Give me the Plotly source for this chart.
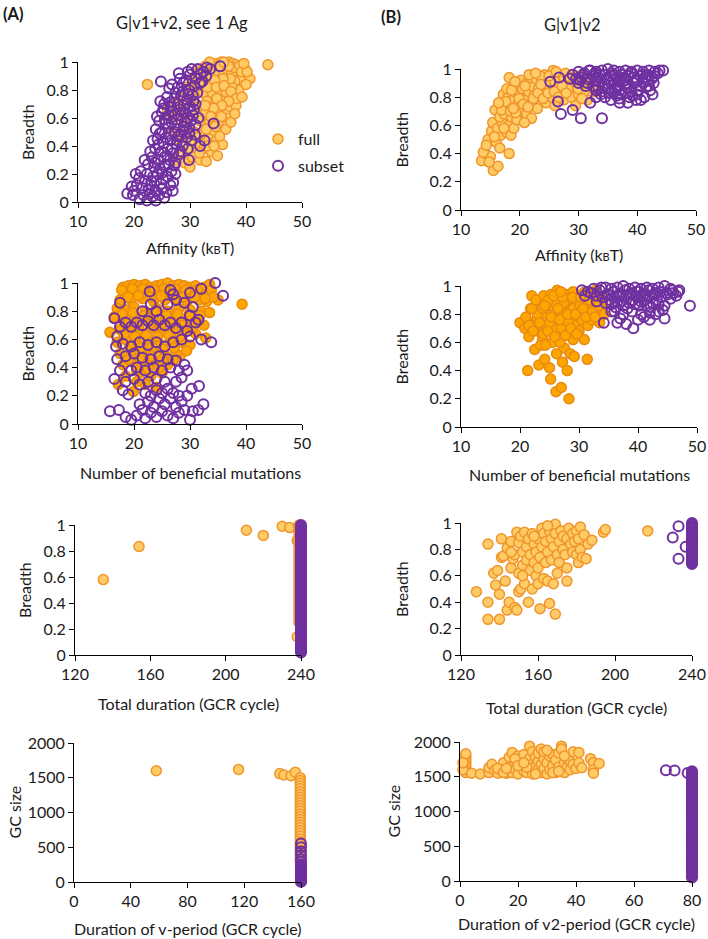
import plotly.graph_objects as go

W, H = 708, 939

# ---------------- data ----------------
A1_FULL = [(33.2,0.97),(34.0,0.98),(34.8,0.99),(35.6,1.0),(36.3,0.99),(37.0,1.0),(37.6,0.99),(38.2,0.98),(34.5,0.95),(35.8,0.96),
           (36.8,0.95),(38.6,0.94),(39.4,0.91),(40.7,0.88),(39.0,0.87),(36.2,0.92),(33.0,0.93),(32.4,0.90),(33.8,0.90),(35.3,0.91),
           (37.4,0.91),(38.0,0.86),(36.7,0.85),(35.0,0.86),(33.6,0.84),(32.0,0.86),(31.2,0.94),(32.7,0.97),(37.9,0.96),(39.8,0.95),
           (31.0,0.80),(32.4,0.78),(34.0,0.78),(35.4,0.80),(36.5,0.78),(37.7,0.76),(38.7,0.80),(33.0,0.72),(34.5,0.70),(36.0,0.72),
           (37.0,0.68),(38.2,0.69),(31.5,0.68),(32.8,0.64),(34.0,0.63),(35.2,0.65),(36.6,0.60),(30.5,0.62),(31.8,0.58),(33.5,0.57),
           (35.0,0.56),(36.4,0.52),(29.5,0.55),(34.8,0.74),(37.5,0.82),(30.0,0.72),(28.8,0.65),(33.9,0.49),(30.8,0.50),(32.0,0.48),
           (33.4,0.45),(34.7,0.44),(35.8,0.41),(31.0,0.42),(32.5,0.38),(33.8,0.36),(29.8,0.38),(30.5,0.32),(31.8,0.30),(29.0,0.28),
           (30.0,0.25),(28.5,0.35),(27.5,0.30),(28.0,0.45),(27.0,0.50),(26.4,0.60),(26.0,0.66),(27.2,0.70),(28.4,0.75),(29.5,0.82),
           (30.4,0.88),(31.4,0.92),(29.5,0.45),(22.4,0.84),(43.9,0.98),(34.9,0.33),(32.9,0.29),
           (34.3,0.93),(35.1,0.97),(36.9,0.97),(38.9,0.97),(39.2,0.93),(37.2,0.88),(35.9,0.88),(34.4,0.87),(33.1,0.82),(34.7,0.82),
           (36.1,0.83),(37.3,0.79),(38.3,0.74),(36.9,0.72),(35.7,0.69),(34.2,0.67),(32.7,0.69),(33.7,0.61),(35.6,0.61),(34.5,0.54),
           (32.9,0.52),(31.3,0.46),(30.1,0.44),(31.7,0.35),(33.1,0.40),(34.3,0.40),(35.3,0.47),(37.3,0.57),(38.0,0.63),(39.3,0.75),
           (40.0,0.84),(40.2,0.93),(39.6,0.99),(36.0,1.0),(33.5,1.0),(30.1,0.78),(31.6,0.84),(29.3,0.70),(28.6,0.58),(27.9,0.62)]
A1_SUB = [(18.8,0.06),(19.8,0.05),(21.0,0.02),(22.3,0.01),(23.3,0.04),(20.5,0.12),(21.5,0.10),(22.0,0.15),(23.0,0.12),(23.8,0.08),
          (24.5,0.05),(25.0,0.10),(25.8,0.07),(26.5,0.12),(21.2,0.22),(22.3,0.20),(23.4,0.18),(24.2,0.20),(25.2,0.16),(26.0,0.18),
          (27.0,0.14),(22.5,0.27),(23.6,0.25),(24.6,0.24),(25.6,0.26),(26.7,0.22),(27.4,0.20),(23.2,0.32),(24.3,0.30),(25.4,0.32),
          (26.4,0.30),(27.4,0.28),(23.8,0.38),(24.9,0.36),(26.0,0.38),(27.0,0.35),(28.0,0.34),(24.2,0.45),(25.3,0.42),(26.5,0.44),
          (27.6,0.41),(28.7,0.40),(29.6,0.38),(29.8,0.30),(23.9,0.52),(25.0,0.50),(26.2,0.49),(27.3,0.50),(28.4,0.48),(29.4,0.46),
          (30.3,0.44),(30.9,0.48),(24.5,0.58),(25.6,0.56),(26.7,0.57),(27.8,0.55),(28.9,0.54),(29.9,0.53),(31.0,0.55),(25.0,0.64),
          (26.2,0.62),(27.3,0.63),(28.4,0.62),(29.5,0.60),(30.5,0.62),(31.5,0.60),(25.4,0.70),(26.6,0.68),(27.8,0.70),(28.9,0.69),
          (30.0,0.68),(31.0,0.70),(25.9,0.75),(27.2,0.74),(28.4,0.76),(29.5,0.73),(30.5,0.76),(26.8,0.84),(27.8,0.82),(28.8,0.85),
          (29.8,0.80),(30.8,0.83),(31.8,0.85),(28.2,0.88),(29.3,0.87),(31.0,0.88),(32.2,0.86),(30.3,0.95),(31.4,0.95),(32.4,0.93),
          (33.0,0.96),(35.4,0.97),(34.2,0.56),(31.8,0.40),(32.6,0.44),(24.8,0.86),(24.7,0.72),(20.0,0.08),(22.8,0.06),(30.0,0.91),
          (26.2,0.27),
          (24.1,0.61),(25.3,0.67),(26.9,0.65),(27.6,0.59),(28.2,0.66),(29.2,0.64),(30.2,0.58),(26.1,0.53),(27.9,0.47),(28.9,0.51),
          (29.9,0.49),(25.7,0.46),(24.4,0.41),(26.8,0.38),(28.3,0.36),(27.2,0.26),(25.1,0.21),(23.1,0.15),(24.8,0.13),(22.6,0.09),
          (21.7,0.05),(20.9,0.17),(23.7,0.28),(25.9,0.33),(27.7,0.44),(29.1,0.57),(30.7,0.66),(31.3,0.78),(29.7,0.77),(28.7,0.79),
          (27.4,0.78),(26.3,0.81),(28.0,0.92),(29.6,0.93),(31.9,0.91),(32.9,0.90),(33.6,0.95),(30.6,0.72),(26.4,0.71),(25.5,0.59),
          (24.6,0.49),(23.4,0.44),(22.9,0.36),(21.9,0.30),(20.3,0.20),(19.6,0.11),(24.0,0.15),(26.9,0.08),(25.4,0.03),(23.9,0.01)]

B1_FULL = [(13.5,0.35),(14.2,0.40),(15.0,0.38),(15.5,0.28),(16.3,0.31),(13.8,0.41),(14.8,0.34),(18.2,0.40),(14.6,0.50),(15.2,0.56),
           (16.0,0.48),(16.8,0.53),(15.4,0.62),(16.2,0.58),(17.0,0.62),(17.8,0.55),(18.5,0.53),(15.8,0.71),(16.6,0.66),(17.4,0.68),
           (18.2,0.60),(19.0,0.58),(17.0,0.76),(17.8,0.72),(18.6,0.66),(19.5,0.64),(18.2,0.94),(17.2,0.82),(18.0,0.80),(18.8,0.78),
           (19.6,0.74),(20.4,0.70),(21.2,0.68),(17.8,0.86),(19.0,0.84),(20.0,0.82),(21.0,0.78),(22.0,0.76),(19.5,0.88),(20.5,0.86),
           (21.5,0.84),(22.5,0.82),(23.5,0.80),(20.2,0.92),(21.2,0.90),(22.2,0.88),(23.2,0.86),(24.2,0.84),(25.2,0.82),(21.8,0.94),
           (22.8,0.93),(23.8,0.91),(24.8,0.89),(25.8,0.87),(26.8,0.85),(24.2,0.96),(25.7,0.99),(26.5,0.95),(27.5,0.93),(28.5,0.90),
           (29.5,0.88),(27.8,0.97),(29.0,0.96),(30.2,0.95),(23.0,0.72),(24.5,0.76),(26.0,0.74),(27.5,0.78),(28.8,0.80),(30.0,0.82),
           (31.5,0.78),(31.0,0.84),(29.5,0.74),(25.5,0.80),(22.0,0.65),(20.8,0.62),(19.8,0.76),(28.2,0.86),(30.8,0.90),(32.5,0.88),
           (26.0,0.91),(23.5,0.95),
           (16.9,0.71),(17.6,0.77),(18.4,0.70),(19.3,0.69),(19.9,0.79),(20.6,0.75),(21.4,0.73),(22.3,0.79),(23.1,0.83),(24.0,0.79),
           (24.8,0.83),(25.9,0.84),(26.6,0.80),(27.2,0.88),(27.9,0.83),(28.6,0.94),(29.3,0.92),(21.6,0.96),(22.7,0.97),(19.2,0.91),
           (20.9,0.88),(18.6,0.85),(16.4,0.76),(15.7,0.52),(14.3,0.46),(16.6,0.44),(17.3,0.58),(18.9,0.72),(23.6,0.89),(25.0,0.95),
           (26.2,0.98),(30.6,0.79),(31.8,0.91),(32.9,0.84),(29.9,0.86)]
B1_SUB = [(25.2,0.91),(26.7,0.94),(26.5,0.77),(27.0,0.68),(29.0,0.71),(30.4,0.65),(34.0,0.65),(37.0,0.76),(38.4,0.76),(44.4,0.99),
          (29.0,0.96),(30.0,0.98),(31.0,0.97),(32.0,0.99),(33.0,0.98),(34.0,0.99),(35.0,1.0),(36.0,0.99),(37.0,0.98),(38.0,0.99),
          (39.0,0.98),(40.0,0.99),(41.0,0.98),(42.0,0.99),(43.0,0.98),(30.5,0.94),(31.5,0.93),(32.5,0.95),(33.5,0.94),(34.5,0.96),
          (35.5,0.95),(36.5,0.94),(37.5,0.96),(38.5,0.95),(39.5,0.94),(40.5,0.95),(41.5,0.94),(42.5,0.93),(31.5,0.90),(32.5,0.88),
          (33.5,0.91),(34.5,0.89),(35.5,0.90),(36.5,0.88),(37.5,0.91),(38.5,0.89),(39.5,0.90),(40.5,0.88),(41.5,0.87),(42.2,0.85),
          (33.0,0.85),(34.0,0.84),(35.0,0.86),(36.0,0.83),(37.0,0.85),(38.0,0.83),(39.0,0.84),(40.0,0.82),(41.2,0.80),(34.5,0.80),
          (35.5,0.78),(36.5,0.81),(39.8,0.78),(33.0,0.80),(32.0,0.76),(30.0,0.90),(28.5,0.93),(36.0,0.96),(38.0,0.92),(40.0,0.92),
          (42.8,0.90),(41.8,0.96),(43.5,0.97),(32.8,0.97),
          (29.6,0.93),(30.8,0.96),(31.8,0.99),(32.9,0.92),(33.7,0.96),(34.8,0.93),(35.7,0.97),(36.8,0.91),(37.8,0.94),(38.9,0.97),
          (39.7,0.92),(40.9,0.96),(41.9,0.92),(42.9,0.95),(43.8,0.99),(34.2,0.87),(35.2,0.83),(36.2,0.86),(37.2,0.82),(38.2,0.87),
          (39.2,0.81),(40.2,0.85),(41.0,0.90),(42.0,0.88),(42.6,0.82),(33.8,0.82),(36.9,0.79),(38.7,0.80),(40.6,0.78),(37.9,0.89),
          (35.9,0.92),(33.3,0.88),(31.2,0.88),(30.3,0.92)]

A2_FULL = [(18,0.97),(19,0.98),(20,0.99),(21,0.98),(22,0.99),(23,0.97),(24,0.98),(25,0.99),(26,1.0),(27,0.98),(28,0.99),(29,0.98),
           (30,0.97),(31,0.98),(32.5,0.97),(33.5,0.99),(18.5,0.93),(20.5,0.94),(22.5,0.93),(24.5,0.94),(26.5,0.95),(28.5,0.93),
           (30.5,0.94),(32,0.92),(33.8,0.95),(35,0.88),(39.3,0.85),(17.5,0.88),(19.5,0.88),(21.5,0.89),(23.5,0.87),(25.5,0.88),
           (27.5,0.89),(29.5,0.87),(31.5,0.88),(33,0.87),(34.2,0.90),(17,0.82),(18.5,0.81),(20,0.83),(22,0.80),(24,0.82),(26,0.80),
           (28,0.82),(30,0.81),(32,0.80),(33.5,0.79),(16.5,0.76),(18,0.74),(19.5,0.75),(21.5,0.74),(23.5,0.76),(25.5,0.74),
           (27.5,0.75),(29.5,0.73),(31.5,0.74),(32.5,0.70),(15.7,0.65),(17.5,0.67),(19,0.68),(21,0.66),(23,0.68),(25,0.66),(27,0.67),
           (29,0.65),(31,0.64),(32.8,0.61),(17,0.58),(18.5,0.60),(20.5,0.58),(22.5,0.60),(24.5,0.57),(26.5,0.59),(28.5,0.58),
           (30,0.56),(28.2,0.48),(17.5,0.50),(19.5,0.52),(21.5,0.50),(23.5,0.52),(25.5,0.49),(27.5,0.50),(18,0.42),(20,0.44),
           (22,0.42),(24,0.44),(26,0.42),(17.2,0.28),(19.9,0.23),(18.5,0.34),(21,0.36),(23,0.34),(25,0.36),(22,0.28),(24,0.26),
           (20.5,0.30),
           (17.8,0.95),(19.7,0.96),(21.6,0.96),(23.6,0.95),(25.4,0.96),(27.3,0.96),(29.3,0.95),(31.3,0.95),(18.9,0.90),(20.8,0.91),
           (22.9,0.90),(24.8,0.91),(26.8,0.91),(28.8,0.90),(30.8,0.90),(32.7,0.89),(17.9,0.78),(19.8,0.79),(21.8,0.77),(23.8,0.79),
           (25.8,0.77),(27.8,0.78),(29.8,0.77),(31.8,0.77),(18.8,0.71),(20.9,0.70),(22.8,0.71),(24.8,0.70),(26.8,0.71),(28.8,0.70),
           (30.6,0.69),(18.2,0.63),(20.2,0.62),(22.2,0.63),(24.2,0.62),(26.2,0.63),(28.2,0.62),(19.2,0.55),(21.2,0.54),(23.2,0.55),
           (25.2,0.53),(27.2,0.54),(29.4,0.52),(19.0,0.46),(21.0,0.47),(23.0,0.48),(25.0,0.46),(27.0,0.45),(20.5,0.38),(22.5,0.39),
           (24.5,0.40)]
A2_SUB = [(15.7,0.09),(17.3,0.10),(18.5,0.05),(19.5,0.03),(20.5,0.06),(21.5,0.10),(22,0.04),(23,0.08),(24,0.05),(25,0.09),
          (26,0.06),(27,0.04),(28,0.08),(29,0.10),(30,0.03),(30.5,0.09),(31.5,0.10),(32.4,0.14),(21,0.14),(22.5,0.16),(23.5,0.12),
          (24.5,0.18),(25.5,0.14),(26.5,0.18),(27.5,0.12),(28.5,0.16),(22,0.22),(23,0.20),(24,0.24),(25,0.22),(26,0.25),(27,0.22),
          (28,0.20),(29.5,0.20),(30.3,0.25),(31.6,0.27),(18,0.24),(19,0.21),(16.5,0.32),(18.5,0.30),(20,0.32),(21,0.28),(22.5,0.30),
          (24,0.32),(25.5,0.30),(27.5,0.30),(28.5,0.33),(17.5,0.38),(19.5,0.38),(20.5,0.40),(22,0.38),(23.5,0.40),(25,0.38),
          (26.5,0.40),(28,0.38),(29,0.42),(29.5,0.38),(17,0.46),(18.5,0.48),(20,0.50),(21.5,0.47),(23,0.46),(24.5,0.48),(26,0.46),
          (27.5,0.45),(16.8,0.55),(18,0.57),(19.5,0.55),(21,0.58),(22.5,0.56),(24,0.58),(25.5,0.55),(27,0.58),(28.5,0.60),(30,0.62),
          (32,0.60),(33.8,0.58),(17,0.62),(16.5,0.75),(17.5,0.69),(18.5,0.72),(19.5,0.69),(20.5,0.72),(21.5,0.70),(22.5,0.73),
          (23.5,0.70),(24.5,0.74),(25.5,0.70),(26.5,0.72),(27.5,0.68),(28.5,0.72),(29.5,0.66),(31,0.72),(17.5,0.86),(23,0.85),
          (26,0.85),(27.5,0.88),(29,0.86),(30.5,0.83),(30,0.77),(31.5,0.74),(22.8,0.94),(26.5,0.95),(27,0.92),(30,0.93),(32,0.96),
          (34.5,1.0),(35.9,0.91),(21.5,0.80),(24,0.80)]

B2_FULL = [(20.0,0.74),(20.8,0.70),(21.3,0.40),(21.5,0.64),(21.8,0.84),(22.0,0.93),(22.5,0.55),(22.8,0.76),(23.0,0.68),(23.2,0.44),
           (23.5,0.88),(23.8,0.62),(24.0,0.93),(24.2,0.48),(24.5,0.80),(24.5,0.72),(25.0,0.42),(25.2,0.34),(25.2,0.94),(25.5,0.86),
           (25.5,0.60),(25.8,0.70),(26.0,0.78),(26.1,0.25),(26.2,0.52),(26.5,0.92),(26.5,0.64),(27.0,0.28),(27.0,0.82),(27.2,0.46),
           (27.5,0.74),(27.5,0.56),(27.8,0.94),(28.0,0.68),(28.0,0.40),(28.3,0.20),(28.5,0.86),(28.5,0.52),(28.8,0.78),(29.0,0.96),
           (29.0,0.62),(29.2,0.50),(29.5,0.72),(29.8,0.90),(30.0,0.84),(30.2,0.80),(30.5,0.76),(30.5,0.94),(30.9,0.62),(31.0,0.88),
           (31.4,0.48),(31.5,0.72),(31.8,0.82),(32.0,0.92),(32.2,0.76),(32.5,0.86),(33.0,0.80),(33.2,0.94),(33.5,0.74),(34.0,0.88),
           (22.5,0.72),(23.0,0.80),(24.0,0.66),(25.0,0.74),(26.0,0.88),(27.0,0.70),(28.0,0.90),(29.0,0.84),(30.0,0.68),(31.0,0.96),
           (21.0,0.78),(22.0,0.84),(23.5,0.58),(26.8,0.60),(28.2,0.74),(30.2,0.86),(32.8,0.97),(24.8,0.90),(26.3,0.97),(27.4,0.88),
           (21.5,0.72),(22.2,0.68),(22.7,0.90),(23.3,0.74),(23.9,0.84),(24.3,0.58),(24.7,0.68),(25.3,0.78),(25.7,0.93),(25.9,0.64),
           (26.4,0.84),(26.7,0.76),(27.2,0.92),(27.7,0.65),(28.1,0.80),(28.6,0.70),(28.9,0.92),(29.4,0.80),(29.6,0.66),(30.3,0.92),
           (30.7,0.84),(31.2,0.78),(31.7,0.90),(32.3,0.82),(32.7,0.78),(33.3,0.86),(33.8,0.92),(34.3,0.80),(24.2,0.86),(26.9,0.96)]
B2_SUB = [(30.5,0.97),(31.5,0.96),(32.5,0.98),(33.5,0.97),(34.5,0.99),(35.5,0.98),(36.5,0.99),(37.5,1.0),(38.5,0.98),(39.5,0.99),
          (40.5,0.98),(41.5,0.99),(42.5,0.98),(43.5,0.99),(44.5,1.0),(45.5,0.98),(47.0,0.97),(33.0,0.93),(34.0,0.92),(35.0,0.94),
          (36.0,0.92),(37.0,0.94),(38.0,0.93),(39.0,0.95),(40.0,0.92),(41.0,0.94),(42.0,0.93),(43.0,0.95),(44.0,0.92),(45.0,0.94),
          (46.0,0.95),(34.5,0.88),(35.5,0.87),(36.5,0.89),(37.5,0.86),(38.5,0.88),(39.5,0.87),(40.5,0.89),(41.5,0.86),(42.5,0.88),
          (43.5,0.87),(44.5,0.86),(36.0,0.82),(37.5,0.80),(39.0,0.82),(40.5,0.80),(42.0,0.81),(43.5,0.82),(34.2,0.74),(36.5,0.74),
          (39.2,0.70),(38.0,0.73),(42.0,0.76),(44.5,0.77),(48.8,0.86),(40.0,0.76),(45.5,0.91),(46.5,0.93),(33.0,0.89),(35.5,0.82),
          (31.0,0.93),(32.0,0.95),(33.8,0.99),(34.8,0.94),(35.8,0.96),(36.8,0.93),(37.8,0.97),(38.8,0.94),(39.8,0.96),(40.8,0.93),
          (41.8,0.97),(42.8,0.94),(43.8,0.96),(44.8,0.95),(45.8,0.97),(35.2,0.90),(36.2,0.85),(37.2,0.89),(38.2,0.84),(39.2,0.90),
          (40.2,0.86),(41.2,0.90),(42.2,0.85),(43.2,0.90),(44.2,0.83),(37.0,0.77),(41.0,0.78),(43.0,0.80),(46.8,0.96)]

A3_FULL = [(135,0.58),(154,0.835),(211,0.96),(220,0.92),(230,0.99),(234,0.98),(238.5,0.99),(238,0.88),(238,0.14),
           (239,0.25),(239,0.27),(239,0.29),(239,0.31),(239,0.33),(239,0.35),(239,0.37),(239,0.39),(239,0.41),(239,0.43),
           (239,0.45),(239,0.47),(239,0.49),(239,0.51),(239,0.53),(239,0.55),(239,0.57),(239,0.59),(239,0.61),(239,0.63),
           (239,0.65),(239,0.67),(239,0.69),(239,0.71),(239,0.73),(239,0.75),(239,0.77),(239,0.79),(239,0.81),(239,0.83),
           (239,0.85),(239,0.87),(239,0.89),(239,0.91),(239,0.93),(239,0.95),(239,0.97),(239,1.0)]
A3_SUB_X = 240
A3_SUB_Y = [0.02,0.03,0.04,0.05,0.06,0.07,0.08,0.09,0.10,0.11,0.12,0.13,0.14,0.15,0.16,0.17,0.18,0.19,0.20,0.21,
            0.22,0.23,0.24,0.25,0.26,0.27,0.28,0.29,0.30,0.31,0.32,0.33,0.34,0.35,0.36,0.37,0.38,0.39,0.40,0.41,
            0.42,0.43,0.44,0.45,0.46,0.47,0.48,0.49,0.50,0.51,0.52,0.53,0.54,0.55,0.56,0.57,0.58,0.59,0.60,0.61,
            0.62,0.63,0.64,0.65,0.66,0.67,0.68,0.69,0.70,0.71,0.72,0.73,0.74,0.75,0.76,0.77,0.78,0.79,0.80,0.81,
            0.82,0.83,0.84,0.85,0.86,0.87,0.88,0.89,0.90,0.91,0.92,0.93,0.94,0.95,0.96,0.97,0.98,0.99,1.0]

B3_FULL = [(128,0.48),(134,0.27),(140,0.27),(134,0.84),(134,0.40),(137,0.62),(138,0.53),(139,0.64),(140,0.46),(141,0.88),
           (141,0.74),(142,0.75),(143,0.56),(144,0.34),(144,0.81),(145,0.40),(146,0.86),(146,0.66),(147,0.73),(148,0.76),
           (148,0.36),(149,0.34),(149,0.93),(150,0.48),(150,0.62),(150,0.85),(151,0.50),(151,0.90),(152,0.68),(152,0.78),
           (153,0.54),(153,0.93),(154,0.72),(154,0.82),(155,0.40),(155,0.88),(156,0.64),(156,0.76),(157,0.50),(157,0.92),
           (158,0.70),(158,0.84),(159,0.60),(159,0.78),(160,0.54),(160,0.66),(160,0.88),(161,0.35),(161,0.74),(162,0.82),
           (162,0.96),(163,0.58),(163,0.92),(164,0.70),(164,0.86),(165,0.78),(165,0.56),(166,0.39),(166,0.94),(167,0.72),
           (167,0.88),(168,0.54),(168,0.82),(169,0.31),(169,0.99),(169,0.92),(170,0.76),(171,0.70),(171,0.86),(172,0.94),
           (173,0.80),(173,0.90),(174,0.76),(175,0.56),(175,0.66),(175,0.88),(176,0.96),(177,0.84),(178,0.78),(178,0.92),
           (179,0.86),(180,0.76),(180,0.94),(181,0.70),(181,0.88),(182,0.97),(182,0.80),(183,0.74),(184,0.91),(185,0.73),
           (186,0.84),(188,0.87),(194,0.93),(195,0.95),(217,0.94),(146,0.78),(152,0.60),(158,0.90),(165,0.98),(170,0.62)]
B3_SUB = [(233,0.975),(230,0.89),(233,0.73),(236.7,0.82),
          (240,0.69),(240,0.70),(240,0.71),(240,0.72),(240,0.73),(240,0.74),(240,0.75),(240,0.76),(240,0.77),(240,0.78),
          (240,0.79),(240,0.80),(240,0.81),(240,0.82),(240,0.83),(240,0.84),(240,0.85),(240,0.86),(240,0.87),(240,0.88),
          (240,0.89),(240,0.90),(240,0.91),(240,0.92),(240,0.93),(240,0.94),(240,0.95),(240,0.96),(240,0.97),(240,0.98),
          (240,0.99),(240,1.0)]

A4_FULL = [(58,1600),(116,1620),(145,1560),(148,1540),(153,1530),(156,1580),
           (159.5,1500),(159.5,1460),(159.5,1420),(159.5,1380),(159.5,1340),(159.5,1300),(159.5,1260),(159.5,1220),
           (159.5,1180),(159.5,1140),(159.5,1100),(159.5,1060),(159.5,1020),(159.5,980),(159.5,940),(159.5,900),
           (159.5,860),(159.5,820),(159.5,780),(159.5,740),(159.5,700),(159.5,660),(159.5,620),(159.5,580),
           (159.5,540),(159.5,500),(159.5,460),(159.5,420),(159.5,380),(159.5,340),(159.5,300)]
A4_SUB_X = 160
A4_SUB_Y = [5,12,20,28,36,44,52,60,68,76,84,92,100,108,116,124,132,140,148,156,164,172,180,188,196,204,212,220,
            228,236,244,255,290,330,390,440,500,555]

B4_FULL = [(2,1560),(2,1600),(2,1640),(2,1680),(2,1720),(2,1760),(2,1800),(2,1830),(1,1600),(1,1700),
           (4,1550),(7,1540),(10,1560),(10,1630),(11,1680),(12,1590),(13,1550),(14,1600),(15,1700),(16,1550),(17,1640),
           (17,1780),(18,1850),(18,1560),(19,1700),(19,1600),(20,1800),(20,1540),(21,1650),(21,1750),(22,1580),(22,1820),
           (23,1700),(23,1560),(24,1940),(24,1620),(24,1760),(25,1680),(25,1540),(25,1860),(26,1580),(26,1780),(26,1650),
           (27,1720),(27,1600),(27,1840),(28,1560),(28,1900),(28,1680),(29,1760),(29,1620),(29,1860),(30,1540),(30,1700),
           (31,1800),(31,1600),(32,1660),(32,1820),(33,1560),(33,1740),(34,1640),(34,1840),(35,1940),(35,1900),(35,1580),
           (36,1700),(36,1560),(37,1640),(37,1760),(38,1600),(38,1720),(39,1860),(39,1680),(40,1620),(41,1850),(41,1700),
           (42,1630),(45,1760),(46,1700),(46,1600),(46,1550),(48,1690),(13,1620),(15,1560),(19,1760),(23,1640),(26,1540),
           (30,1880),(32,1560),(34,1580),(36,1800),(16,1620),(20,1660),(22,1700)]
B4_SUB = [(71,1595),(74,1590),(78.5,1555),
          (80,50),(80,70),(80,90),(80,110),(80,130),(80,150),(80,170),(80,190),(80,210),(80,230),(80,250),(80,270),
          (80,290),(80,310),(80,330),(80,350),(80,370),(80,390),(80,410),(80,430),(80,450),(80,470),(80,490),(80,510),
          (80,530),(80,550),(80,570),(80,590),(80,610),(80,630),(80,650),(80,670),(80,690),(80,710),(80,730),(80,750),
          (80,770),(80,790),(80,810),(80,830),(80,850),(80,870),(80,890),(80,910),(80,930),(80,950),(80,970),(80,990),
          (80,1010),(80,1030),(80,1050),(80,1070),(80,1090),(80,1110),(80,1130),(80,1150),(80,1170),(80,1190),(80,1210),
          (80,1230),(80,1250),(80,1270),(80,1290),(80,1310),(80,1330),(80,1350),(80,1370),(80,1390),(80,1410),(80,1430),
          (80,1450),(80,1470),(80,1490),(80,1510),(80,1530),(80,1550),(80,1570),(80,1580)]

BREADTH_TICKS = [0, 0.2, 0.4, 0.6, 0.8, 1]
BREADTH_TEXT = ["0", "0.2", "0.4", "0.6", "0.8", "1"]
AFF_TICKS = [10, 20, 30, 40, 50]
DUR_TICKS = [120, 160, 200, 240]
GC_TICKS = [0, 500, 1000, 1500, 2000]
VA_TICKS = [0, 40, 80, 120, 160]
VB_TICKS = [0, 20, 40, 60, 80]

# ---------------- style ----------------
FONT = "Lato, Noto Sans, sans-serif"
TXT = "#1a1a1a"
FULL_FILL, FULL_LINE = "#FFCB66", "#F0952B"
FULL2_FILL, FULL2_LINE = "#FFA500", "#E88A10"
SUB_LINE = "#7030A0"
TICK_SIZE = 16
TITLE_SIZE = 16


def px(x):
    """window pixel -> paper fraction"""
    return x / W


def py(y):
    return 1 - y / H


KBT = "Affinity (k<span style='font-size:11px'>B</span>T)"
panels = [
    dict(box=(78, 302, 62, 202), xr=[10, 50], xt=AFF_TICKS, yr=[0, 1], yt=BREADTH_TICKS, ytt=BREADTH_TEXT,
         full=A1_FULL, sub=A1_SUB, style=1, xtitle=KBT, xty=248, ytitle="Breadth", ytx=27),
    dict(box=(461, 696, 69, 210), xr=[10, 50], xt=AFF_TICKS, yr=[0, 1], yt=BREADTH_TICKS, ytt=BREADTH_TEXT,
         full=B1_FULL, sub=B1_SUB, style=1, xtitle=KBT, xty=255, ytitle="Breadth", ytx=401),
    dict(box=(78, 302, 283, 424), xr=[10, 50], xt=AFF_TICKS, yr=[0, 1], yt=BREADTH_TICKS, ytt=BREADTH_TEXT,
         full=A2_FULL, sub=A2_SUB, style=2, xtitle="Number of beneficial mutations", xty=472,
         ytitle="Breadth", ytx=27),
    dict(box=(461, 697, 286, 427), xr=[10, 50], xt=AFF_TICKS, yr=[0, 1], yt=BREADTH_TICKS, ytt=BREADTH_TEXT,
         full=B2_FULL, sub=B2_SUB, style=2, xtitle="Number of beneficial mutations", xty=475,
         ytitle="Breadth", ytx=401),
    dict(box=(75, 301, 525, 655), xr=[120, 240], xt=DUR_TICKS, yr=[0, 1], yt=BREADTH_TICKS, ytt=BREADTH_TEXT,
         full=A3_FULL, sub=[(A3_SUB_X, v) for v in A3_SUB_Y], style=1, xtitle="Total duration (GCR cycle)", xty=703,
         ytitle="Breadth", ytx=24),
    dict(box=(461, 692, 523, 655), xr=[120, 240], xt=DUR_TICKS, yr=[0, 1], yt=BREADTH_TICKS, ytt=BREADTH_TEXT,
         full=B3_FULL, sub=B3_SUB, style=1, xtitle="Total duration (GCR cycle)", xty=707,
         ytitle="Breadth", ytx=401),
    dict(box=(74, 301, 743, 882), xr=[0, 160], xt=VA_TICKS, yr=[0, 2000], yt=GC_TICKS, ytt=[str(v) for v in GC_TICKS],
         full=A4_FULL, sub=[(A4_SUB_X, v) for v in A4_SUB_Y], style=1, xtitle="Duration of v-period (GCR cycle)", xty=928,
         ytitle="GC size", ytx=14),
    dict(box=(460, 692, 742, 881), xr=[0, 80], xt=VB_TICKS, yr=[0, 2000], yt=GC_TICKS, ytt=[str(v) for v in GC_TICKS],
         full=B4_FULL, sub=B4_SUB, style=1, xtitle="Duration of v2-period (GCR cycle)", xty=923,
         ytitle="GC size", ytx=393),
]

fig = go.Figure()
annotations = []
layout = {}

for i, p in enumerate(panels, start=1):
    x0, x1, yt, yb = p["box"]
    xa = "x" if i == 1 else f"x{i}"
    ya = "y" if i == 1 else f"y{i}"
    fill, line = (FULL_FILL, FULL_LINE) if p["style"] == 1 else (FULL2_FILL, FULL2_LINE)
    fx = [a for a, b in p["full"]]
    fy = [b for a, b in p["full"]]
    sx = [a for a, b in p["sub"]]
    sy = [b for a, b in p["sub"]]
    fig.add_trace(go.Scatter(x=fx, y=fy, mode="markers", name="full", legendgroup="full",
                             showlegend=(i == 1), xaxis=xa, yaxis=ya, cliponaxis=False,
                             marker=dict(size=10, color=fill, line=dict(color=line, width=1.5))))
    fig.add_trace(go.Scatter(x=sx, y=sy, mode="markers", name="subset", legendgroup="subset",
                             showlegend=(i == 1), xaxis=xa, yaxis=ya, cliponaxis=False,
                             marker=dict(size=10, symbol="circle-open", color=SUB_LINE, line=dict(width=2))))
    axcommon = dict(showline=True, linecolor="#000", linewidth=1, ticks="outside", ticklen=5,
                    tickcolor="#000", showgrid=False, zeroline=False, automargin=False,
                    tickfont=dict(family=FONT, size=TICK_SIZE, color=TXT))
    layout["xaxis" if i == 1 else f"xaxis{i}"] = dict(
        domain=[px(x0), px(x1)], anchor=ya, range=p["xr"], tickvals=p["xt"], **axcommon)
    layout["yaxis" if i == 1 else f"yaxis{i}"] = dict(
        domain=[py(yb), py(yt)], anchor=xa, range=p["yr"], tickvals=p["yt"], ticktext=p["ytt"], **axcommon)
    annotations.append(dict(text=p["xtitle"], x=px((x0 + x1) / 2), y=py(p["xty"]), xref="paper", yref="paper",
                            showarrow=False, xanchor="center", yanchor="middle",
                            font=dict(family=FONT, size=TITLE_SIZE, color=TXT)))
    annotations.append(dict(text=p["ytitle"], x=px(p["ytx"]), y=py((yt + yb) / 2), xref="paper", yref="paper",
                            showarrow=False, xanchor="center", yanchor="middle", textangle=-90,
                            font=dict(family=FONT, size=TITLE_SIZE, color=TXT)))

annotations += [
    dict(text="<b>(A)</b>", x=px(1), y=py(14), xref="paper", yref="paper", showarrow=False,
         xanchor="left", yanchor="middle", font=dict(family=FONT, size=16.5, color=TXT)),
    dict(text="G|v1+v2, see 1 Ag", x=px(182), y=py(23), xref="paper", yref="paper", showarrow=False,
         xanchor="center", yanchor="middle", font=dict(family=FONT, size=16.5, color=TXT)),
    dict(text="<b>(B)</b>", x=px(391), y=py(17), xref="paper", yref="paper", showarrow=False,
         xanchor="center", yanchor="middle", font=dict(family=FONT, size=16.5, color=TXT)),
    dict(text="G|v1|v2", x=px(572), y=py(25), xref="paper", yref="paper", showarrow=False,
         xanchor="center", yanchor="middle", font=dict(family=FONT, size=16.5, color=TXT)),
]

fig.update_layout(
    width=W, height=H, margin=dict(l=0, r=0, t=0, b=0, pad=0, autoexpand=False),
    paper_bgcolor="white", plot_bgcolor="white",
    font=dict(family=FONT, size=TICK_SIZE, color=TXT),
    annotations=annotations,
    legend=dict(x=px(258), y=py(122), xanchor="left", yanchor="top", bgcolor="rgba(0,0,0,0)",
                font=dict(family=FONT, size=16, color=TXT), tracegroupgap=3, itemwidth=30),
    **layout,
)

# remove the browser's default 8px page margin so the figure fills the window exactly
fig.write_html("out.html",
               config={"displayModeBar": False},
               post_script="document.body.style.margin='0';document.body.style.overflow='hidden';")
